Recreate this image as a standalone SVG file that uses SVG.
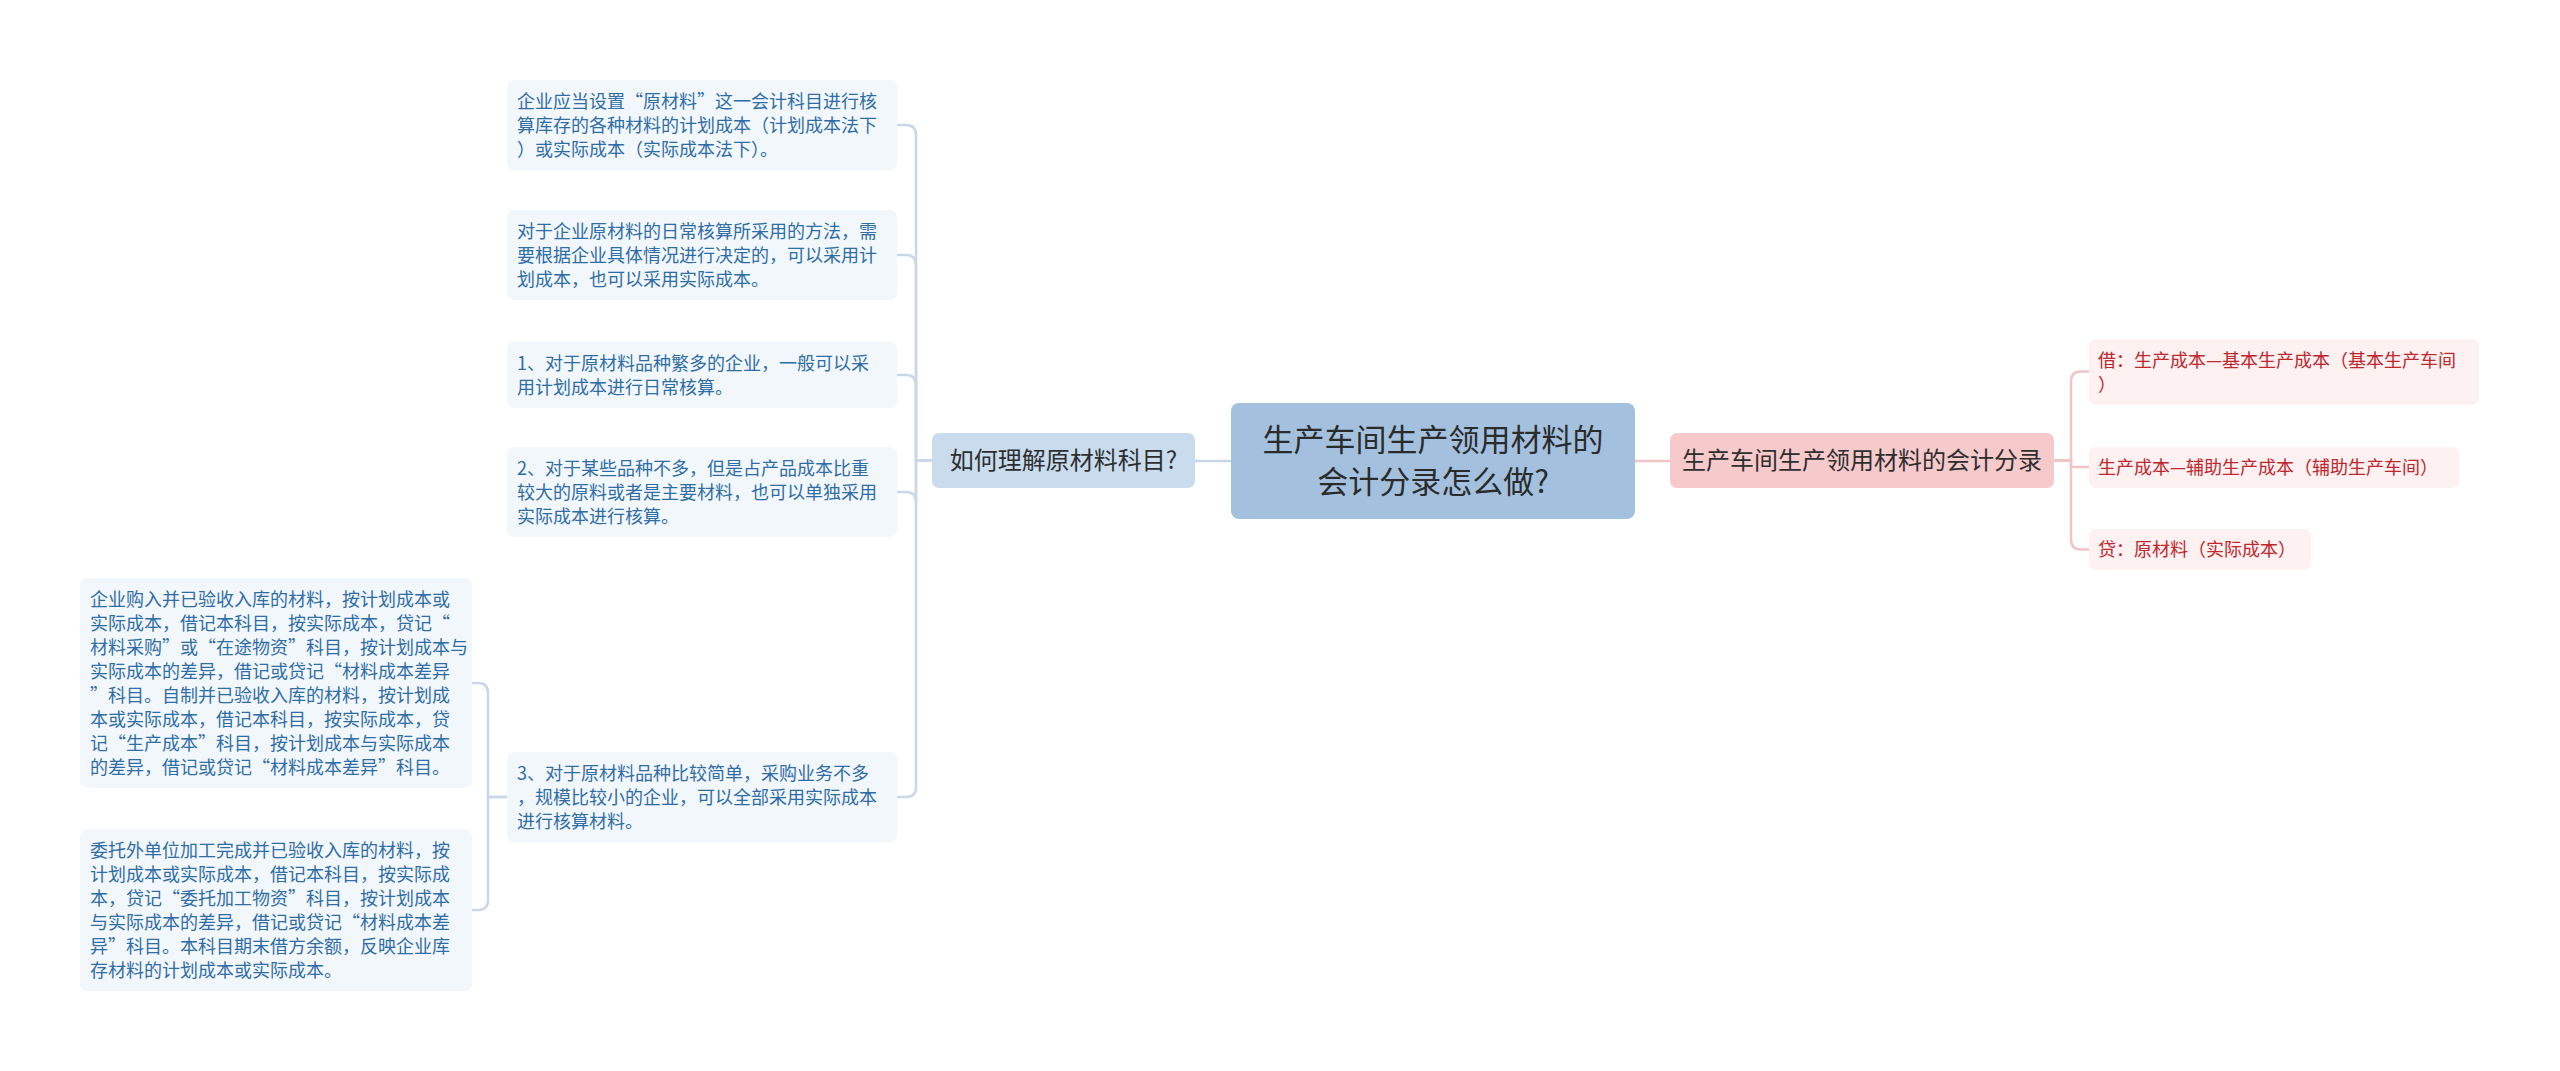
<svg xmlns="http://www.w3.org/2000/svg" width="2560" height="1071" viewBox="0 0 2560 1071">
<style>
  text { font-family: "Noto Sans CJK SC", "Noto Sans", sans-serif; }
  .root-box { fill: #a3c1de; }
  .root-text { font-size: 31px; fill: #2b2b2b; text-anchor: middle; }
  .l1-left { fill: #c9dcee; }
  .l1-right { fill: #f6c9cb; }
  .l1-text { font-size: 24px; fill: #2e2e2e; text-anchor: middle; }
  .leaf-blue { fill: #f2f7fc; }
  .leaf-blue-text { font-size: 18px; fill: #2f6da6; }
  .leaf-red { fill: #fdf1f1; }
  .leaf-red-text { font-size: 18px; fill: #c0262c; }
  .conn-blue { fill: none; stroke: #c9d8e8; stroke-width: 2.5; }
  .conn-red { fill: none; stroke: #f1c4c7; stroke-width: 2.5; }
</style>

<g id="connectors">
  <path class="conn-blue" d="M1231,461 H1195"/>
  <path class="conn-blue" d="M932,460.5 H916 V135 Q916,125 906,125 H897"/>
  <path class="conn-blue" d="M932,460.5 H916 V265 Q916,255 906,255 H897"/>
  <path class="conn-blue" d="M932,460.5 H916 V385 Q916,375 906,375 H897"/>
  <path class="conn-blue" d="M932,460.5 H916 V502 Q916,492 906,492 H897"/>
  <path class="conn-blue" d="M932,460.5 H916 V787 Q916,797 906,797 H897"/>
  <path class="conn-blue" d="M507,797 H488 V693 Q488,683 478,683 H472"/>
  <path class="conn-blue" d="M507,797 H488 V900 Q488,910 478,910 H472"/>
  <path class="conn-red" d="M1635,461 H1670"/>
  <path class="conn-red" d="M2054,460.5 H2071 V381.5 Q2071,371.5 2081,371.5 H2089"/>
  <path class="conn-red" d="M2054,460.5 H2071 V467 H2089"/>
  <path class="conn-red" d="M2054,460.5 H2071 V539.5 Q2071,549.5 2081,549.5 H2089"/>
</g>

<g id="root">
  <rect class="root-box" x="1231" y="403" width="404" height="116" rx="8"/>
  <text class="root-text" x="1433" y="451">生产车间生产领用材料的</text>
  <text class="root-text" x="1433" y="493">会计分录怎么做?</text>
</g>

<g id="left-l1">
  <rect class="l1-left" x="932" y="433" width="263" height="55" rx="7"/>
  <text class="l1-text" x="1063.5" y="469">如何理解原材料科目?</text>
</g>

<g id="right-l1">
  <rect class="l1-right" x="1670" y="433" width="384" height="55" rx="7"/>
  <text class="l1-text" x="1862" y="469">生产车间生产领用材料的会计分录</text>
</g>

<g id="node-a">
  <rect class="leaf-blue" x="507" y="80" width="390" height="90" rx="7"/>
  <text class="leaf-blue-text" x="517" y="108">企业应当设置“原材料”这一会计科目进行核</text>
  <text class="leaf-blue-text" x="517" y="132">算库存的各种材料的计划成本（计划成本法下</text>
  <text class="leaf-blue-text" x="517" y="156">）或实际成本（实际成本法下）。</text>
</g>

<g id="node-b">
  <rect class="leaf-blue" x="507" y="210" width="390" height="90" rx="7"/>
  <text class="leaf-blue-text" x="517" y="238">对于企业原材料的日常核算所采用的方法，需</text>
  <text class="leaf-blue-text" x="517" y="262">要根据企业具体情况进行决定的，可以采用计</text>
  <text class="leaf-blue-text" x="517" y="286">划成本，也可以采用实际成本。</text>
</g>

<g id="node-c">
  <rect class="leaf-blue" x="507" y="342" width="390" height="66" rx="7"/>
  <text class="leaf-blue-text" x="517" y="370">1、对于原材料品种繁多的企业，一般可以采</text>
  <text class="leaf-blue-text" x="517" y="394">用计划成本进行日常核算。</text>
</g>

<g id="node-d">
  <rect class="leaf-blue" x="507" y="447" width="390" height="90" rx="7"/>
  <text class="leaf-blue-text" x="517" y="475">2、对于某些品种不多，但是占产品成本比重</text>
  <text class="leaf-blue-text" x="517" y="499">较大的原料或者是主要材料，也可以单独采用</text>
  <text class="leaf-blue-text" x="517" y="523">实际成本进行核算。</text>
</g>

<g id="node-e">
  <rect class="leaf-blue" x="507" y="752" width="390" height="90" rx="7"/>
  <text class="leaf-blue-text" x="517" y="780">3、对于原材料品种比较简单，采购业务不多</text>
  <text class="leaf-blue-text" x="517" y="804">，规模比较小的企业，可以全部采用实际成本</text>
  <text class="leaf-blue-text" x="517" y="828">进行核算材料。</text>
</g>

<g id="node-f">
  <rect class="leaf-blue" x="80" y="578" width="392" height="210" rx="7"/>
  <text class="leaf-blue-text" x="90" y="606">企业购入并已验收入库的材料，按计划成本或</text>
  <text class="leaf-blue-text" x="90" y="630">实际成本，借记本科目，按实际成本，贷记“</text>
  <text class="leaf-blue-text" x="90" y="654">材料采购”或“在途物资”科目，按计划成本与</text>
  <text class="leaf-blue-text" x="90" y="678">实际成本的差异，借记或贷记“材料成本差异</text>
  <text class="leaf-blue-text" x="90" y="702">”科目。自制并已验收入库的材料，按计划成</text>
  <text class="leaf-blue-text" x="90" y="726">本或实际成本，借记本科目，按实际成本，贷</text>
  <text class="leaf-blue-text" x="90" y="750">记“生产成本”科目，按计划成本与实际成本</text>
  <text class="leaf-blue-text" x="90" y="774">的差异，借记或贷记“材料成本差异”科目。</text>
</g>

<g id="node-g">
  <rect class="leaf-blue" x="80" y="829" width="392" height="162" rx="7"/>
  <text class="leaf-blue-text" x="90" y="857">委托外单位加工完成并已验收入库的材料，按</text>
  <text class="leaf-blue-text" x="90" y="881">计划成本或实际成本，借记本科目，按实际成</text>
  <text class="leaf-blue-text" x="90" y="905">本，贷记“委托加工物资”科目，按计划成本</text>
  <text class="leaf-blue-text" x="90" y="929">与实际成本的差异，借记或贷记“材料成本差</text>
  <text class="leaf-blue-text" x="90" y="953">异”科目。本科目期末借方余额，反映企业库</text>
  <text class="leaf-blue-text" x="90" y="977">存材料的计划成本或实际成本。</text>
</g>

<g id="node-r1">
  <rect class="leaf-red" x="2089" y="339" width="390" height="66" rx="7"/>
  <text class="leaf-red-text" x="2098" y="367">借：生产成本—基本生产成本（基本生产车间</text>
  <text class="leaf-red-text" x="2098" y="391">）</text>
</g>

<g id="node-r2">
  <rect class="leaf-red" x="2089" y="447" width="370" height="41" rx="7"/>
  <text class="leaf-red-text" x="2098" y="474">生产成本—辅助生产成本（辅助生产车间）</text>
</g>

<g id="node-r3">
  <rect class="leaf-red" x="2089" y="529" width="222" height="41" rx="7"/>
  <text class="leaf-red-text" x="2098" y="556">贷：原材料（实际成本）</text>
</g>
</svg>
